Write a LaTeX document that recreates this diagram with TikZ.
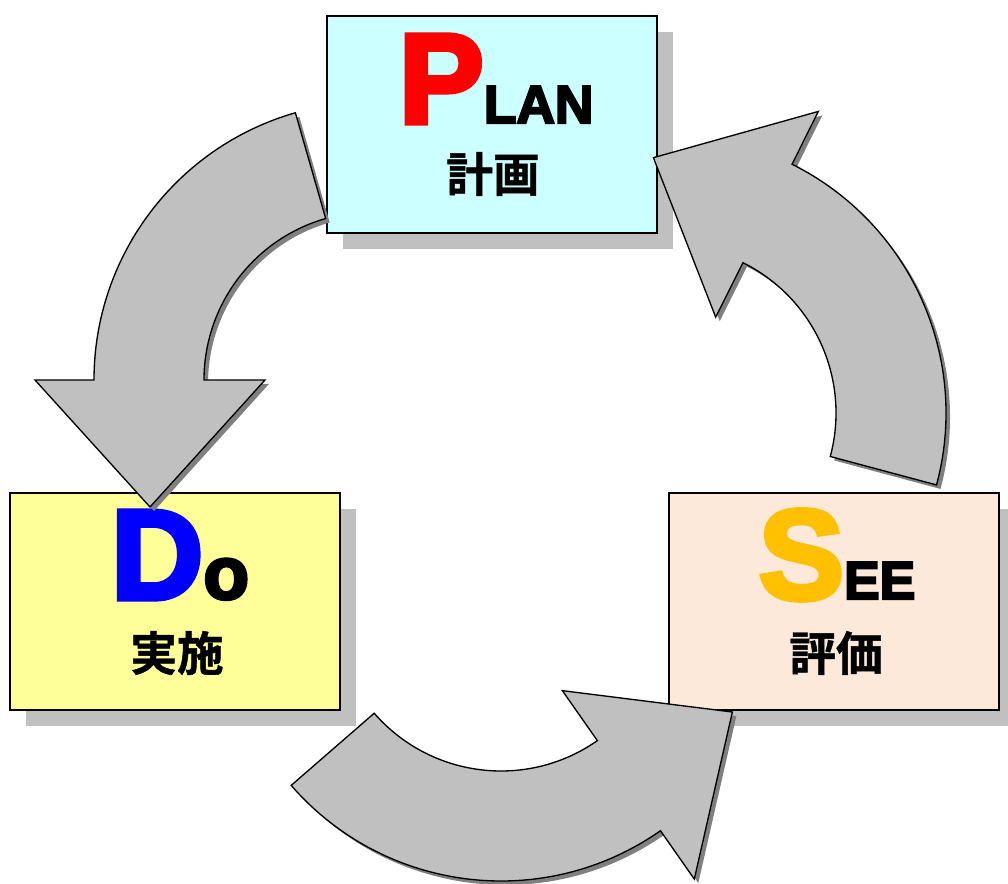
\documentclass[tikz,border=0pt]{standalone}
\usepackage{fontspec}
\usetikzlibrary{calc,shadows}
\newfontfamily\titlefont[FakeBold=4]{Liberation Sans Bold}
\newfontfamily\jpfont[FakeBold=1]{Noto Sans CJK JP Bold}
\definecolor{planfill}{HTML}{CCFFFF}
\definecolor{dofill}{HTML}{FFFF99}
\definecolor{seefill}{HTML}{FCE9DA}
\definecolor{seegold}{HTML}{FFC000}
\definecolor{arrowgray}{HTML}{C0C0C0}

% block arrow on a ring round #1, from angle #2 to angle #3
\newcommand\cyclearrow[3]{%
  \draw[flowarrow] ($(#1)+(#2:278)$) arc[start angle=#2, end angle=#3, radius=278]
    -- ($(#1)+(#3:337)$) -- ($(#1)+(#3:222)+(#3-90:127)$) -- ($(#1)+(#3:107)$)
    -- ($(#1)+(#3:168)$) arc[start angle=#3, end angle=#2, radius=168] -- cycle;}

\begin{document}
\begin{tikzpicture}[x=0.75pt,y=-0.75pt,
    stagebox/.style={draw,line width=1.5pt,minimum width=247.5pt,minimum height=162.75pt,
      drop shadow={shadow xshift=12pt,shadow yshift=-12pt,fill=arrowgray,opacity=1}},
    flowarrow/.style={draw,line width=1pt,fill=arrowgray,line join=miter,
      drop shadow={shadow xshift=3pt,shadow yshift=-3pt,fill=black!50,opacity=1}},
    word/.style={inner sep=0pt,font=\jpfont\fontsize{35}{35}\selectfont}]
  \useasboundingbox (0,0) rectangle (1008,884);

  \node[stagebox,fill=planfill] (plan) at (492,124.5) {};
  \node[stagebox,fill=dofill] (do) at (175,601.5) {};
  \node[stagebox,fill=seefill] (see) at (834,601.5) {};

  \node[anchor=base,inner sep=0pt] (plantitle) at (496,123)
    {\titlefont{\color{red}\fontsize{96}{96}\selectfont P}\fontsize{40}{40}\selectfont LAN};
  \node[word] (planword) at (493,174) {計画};
  \node[anchor=base,inner sep=0pt] (dotitle) at (180,599)
    {\titlefont{\color{blue}\fontsize{96}{96}\selectfont D}\fontsize{56}{56}\selectfont o};
  \node[word] (doword) at (177,653) {実施};
  \node[anchor=base,inner sep=0pt] (seetitle) at (837,599)
    {\titlefont{\color{seegold}\fontsize{96}{96}\selectfont S}\fontsize{40}{40}\selectfont EE};
  \node[word] (seeword) at (836,653) {評価};

  % ring centres of the three arrows
  \coordinate (plan-do) at (372,380);
  \coordinate (do-see) at (501,603);
  \coordinate (see-plan) at (668,413);
  \cyclearrow{plan-do}{-106}{-180}
  \cyclearrow{do-see}{139}{55}
  \cyclearrow{see-plan}{15}{-63.5}
\end{tikzpicture}
\end{document}
